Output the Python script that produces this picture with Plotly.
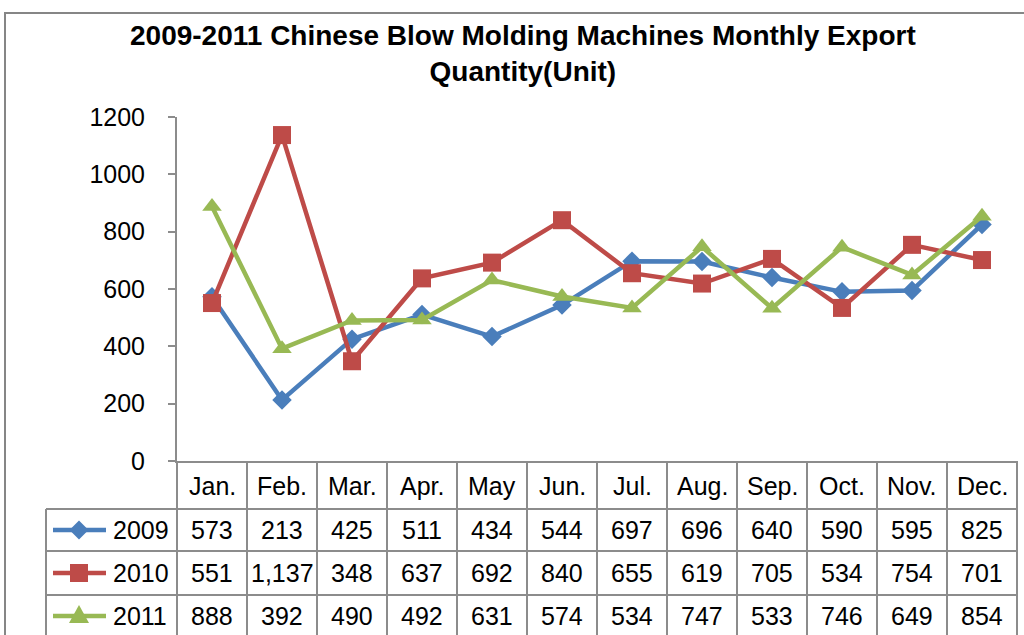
import plotly.graph_objects as go

months = ["Jan.", "Feb.", "Mar.", "Apr.", "May", "Jun.", "Jul.", "Aug.", "Sep.", "Oct.", "Nov.", "Dec."]
years = ["2009", "2010", "2011"]
v2009 = [573, 213, 425, 511, 434, 544, 697, 696, 640, 590, 595, 825]
v2010 = [551, 1137, 348, 637, 692, 840, 655, 619, 705, 534, 754, 701]
v2011 = [888, 392, 490, 492, 631, 574, 534, 747, 533, 746, 649, 854]
yticks = [0, 200, 400, 600, 800, 1000, 1200]

series = [v2009, v2010, v2011]
colors = ["#4A7EBB", "#BE4B48", "#98B954"]
symbols = ["diamond", "square", "triangle-up"]
msizes = [15, 18, 17]

W, H = 1024, 635
L, R, T, B = 177, 1017, 117, 461
FONT = "Liberation Sans, Arial, sans-serif"
GRID = "#8C8C8C"
FS = 25


def px(x):
    return (x - L) / (R - L)


def py(y):
    return (B - y) / (B - T)


fig = go.Figure()
for name, vals, c, s, ms in zip(years, series, colors, symbols, msizes):
    fig.add_trace(go.Scatter(
        x=months, y=vals, name=name, mode="lines+markers",
        line=dict(color=c, width=4.5),
        marker=dict(symbol=s, size=ms, color=c, line=dict(width=0)),
        cliponaxis=False, showlegend=False, hoverinfo="skip",
    ))

shapes = []
annotations = []

# outer chart border
shapes.append(dict(type="rect", xref="paper", yref="paper",
                   x0=px(5), x1=px(1040), y0=py(13), y1=py(660),
                   line=dict(color="#868686", width=2), layer="below"))

# table grid
col_w = (R - L) / len(months)
row_lines = [509, 551, 595, 638]
for yl in row_lines:
    shapes.append(dict(type="line", xref="paper", yref="paper",
                       x0=px(46), x1=px(R), y0=py(yl), y1=py(yl),
                       line=dict(color=GRID, width=2)))
shapes.append(dict(type="line", xref="paper", yref="paper",
                   x0=px(46), x1=px(46), y0=py(509), y1=py(660),
                   line=dict(color=GRID, width=2)))
for i in range(len(months) + 1):
    xl = L + col_w * i
    shapes.append(dict(type="line", xref="paper", yref="paper",
                       x0=px(xl), x1=px(xl), y0=py(B), y1=py(660),
                       line=dict(color=GRID, width=2)))

# header row
for i, m in enumerate(months):
    annotations.append(dict(x=px(L + col_w * (i + 0.5)), y=py(486), xref="paper", yref="paper",
                            text=m, showarrow=False, xanchor="center", yanchor="middle",
                            font=dict(family=FONT, size=FS, color="#000000")))

row_centers = [530, 573, 616]
for r, (name, vals, c, s) in enumerate(zip(years, series, colors, symbols)):
    yc = row_centers[r]
    # legend key line
    shapes.append(dict(type="line", xref="paper", yref="paper",
                       x0=px(53), x1=px(106), y0=py(yc), y1=py(yc),
                       line=dict(color=c, width=4.5)))
    mx = 79
    if s == "diamond":
        d = 9.5
        path = f"M {px(mx)},{py(yc - d)} L {px(mx + d)},{py(yc)} L {px(mx)},{py(yc + d)} L {px(mx - d)},{py(yc)} Z"
    elif s == "square":
        d = 9
        path = f"M {px(mx - d)},{py(yc - d)} L {px(mx + d)},{py(yc - d)} L {px(mx + d)},{py(yc + d)} L {px(mx - d)},{py(yc + d)} Z"
    else:
        path = f"M {px(mx)},{py(yc - 11)} L {px(mx + 10)},{py(yc + 7)} L {px(mx - 10)},{py(yc + 7)} Z"
    shapes.append(dict(type="path", xref="paper", yref="paper", path=path,
                       fillcolor=c, line=dict(color=c, width=0)))
    annotations.append(dict(x=px(111), y=py(yc), xref="paper", yref="paper",
                            text=name, showarrow=False, xanchor="left", yanchor="middle",
                            font=dict(family=FONT, size=FS, color="#000000")))
    for i, v in enumerate(vals):
        annotations.append(dict(x=px(L + col_w * (i + 0.5)), y=py(yc), xref="paper", yref="paper",
                                text=f"{v:,}", showarrow=False, xanchor="center", yanchor="middle",
                                font=dict(family=FONT, size=FS, color="#000000")))

# title
annotations.append(dict(x=px(523), y=py(54), xref="paper", yref="paper",
                        text="<b>2009-2011 Chinese Blow Molding Machines Monthly Export<br>Quantity(Unit)</b>",
                        showarrow=False, xanchor="center", yanchor="middle",
                        font=dict(family=FONT, size=28, color="#000000")))

fig.update_layout(
    width=W, height=H,
    margin=dict(l=L, r=W - R, t=T, b=H - B),
    paper_bgcolor="white", plot_bgcolor="white",
    shapes=shapes, annotations=annotations,
    hovermode=False,
    xaxis=dict(type="category", range=[-0.5, len(months) - 0.5], showticklabels=False,
               showgrid=False, zeroline=False, showline=True, linecolor=GRID, linewidth=2,
               ticks="", fixedrange=True),
    yaxis=dict(range=[0, 1200], tickvals=yticks, showgrid=False, zeroline=False,
               showline=True, linecolor=GRID, linewidth=2, ticks="outside", ticklen=7,
               tickcolor=GRID, tickwidth=2, ticklabelstandoff=18, fixedrange=True,
               tickfont=dict(family=FONT, size=FS, color="#000000")),
    font=dict(family=FONT),
)

fig.write_html("out.html", config={"displayModeBar": False},
               post_script="document.body.style.margin='0';document.body.style.overflow='hidden';")
